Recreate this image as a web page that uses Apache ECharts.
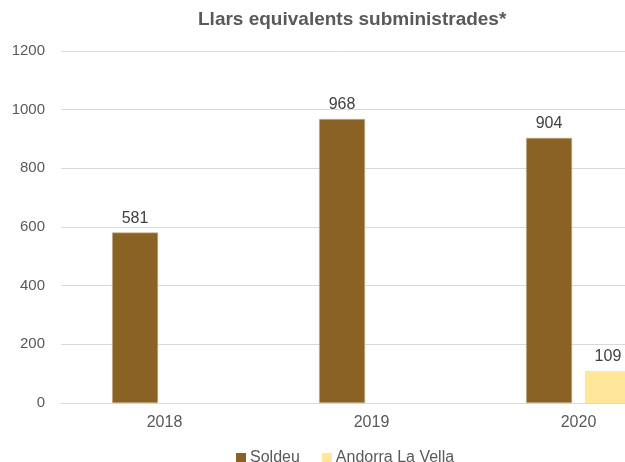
<!DOCTYPE html>
<html>
<head>
<meta charset="utf-8">
<script src="https://cdn.jsdelivr.net/npm/echarts@6/dist/echarts.min.js"></script>
<style>
  html, body { margin: 0; padding: 0; background: #fff; }
  #chart { width: 625px; height: 462px; }
</style>
</head>
<body>
<div id="chart"></div>
<script>
// data
var years = ["2018", "2019", "2020"];
var soldeu = [581, 968, 904];
var andorra = [null, null, 109];
var yTicks = [0, 200, 400, 600, 800, 1000, 1200];

var font = "'Liberation Sans', Arial, sans-serif";

var myChart = echarts.init(document.getElementById("chart"));
var option = {
    animation: false,
    textStyle: { fontFamily: font },
    title: {
        text: "Llars equivalents subministrades*",
        left: 193,
        top: 5,
        textStyle: { fontFamily: font, fontSize: 19, fontWeight: "bold", color: "#595959" }
    },
    // chart is cut off at the right edge, so the plot runs past the canvas
    grid: { left: 61, width: 621, top: 51, bottom: 59, outerBoundsMode: "none", containLabel: false },
    legend: {
        data: ["Soldeu", "Andorra La Vella"],
        left: 231,
        top: 445,
        itemWidth: 10,
        itemHeight: 10,
        itemGap: 22,
        icon: "rect",
        itemStyle: { borderWidth: 0 },
        textStyle: { fontFamily: font, fontSize: 16, color: "#595959", padding: [0, 0, 0, -1] }
    },
    xAxis: {
        type: "category",
        data: years,
        axisLine: { lineStyle: { color: "#d9d9d9" } },
        axisTick: { show: false },
        axisLabel: { fontFamily: font, fontSize: 16, color: "#595959", margin: 12 }
    },
    yAxis: {
        type: "value",
        min: yTicks[0],
        max: yTicks[yTicks.length - 1],
        interval: 200,
        axisLine: { show: false },
        axisTick: { show: false },
        splitLine: { lineStyle: { color: "#d9d9d9" } },
        axisLabel: {
            fontFamily: font, fontSize: 15, color: "#595959", margin: 16,
            formatter: function (v) { return String(v); }
        }
    },
    series: [
        {
            name: "Soldeu",
            type: "bar",
            data: soldeu,
            barWidth: 46,
            barGap: "28%",
            itemStyle: { color: "#8a6223", borderColor: "#c8b48e", borderWidth: 0.6 },
            label: { show: true, position: "top", fontFamily: font, fontSize: 16, color: "#404040", distance: 6 }
        },
        {
            name: "Andorra La Vella",
            type: "bar",
            data: andorra,
            barWidth: 46,
            itemStyle: { color: "#ffe699" },
            label: { show: true, position: "top", fontFamily: font, fontSize: 16, color: "#404040", distance: 6 }
        }
    ]
};
myChart.setOption(option);
</script>
</body>
</html>
